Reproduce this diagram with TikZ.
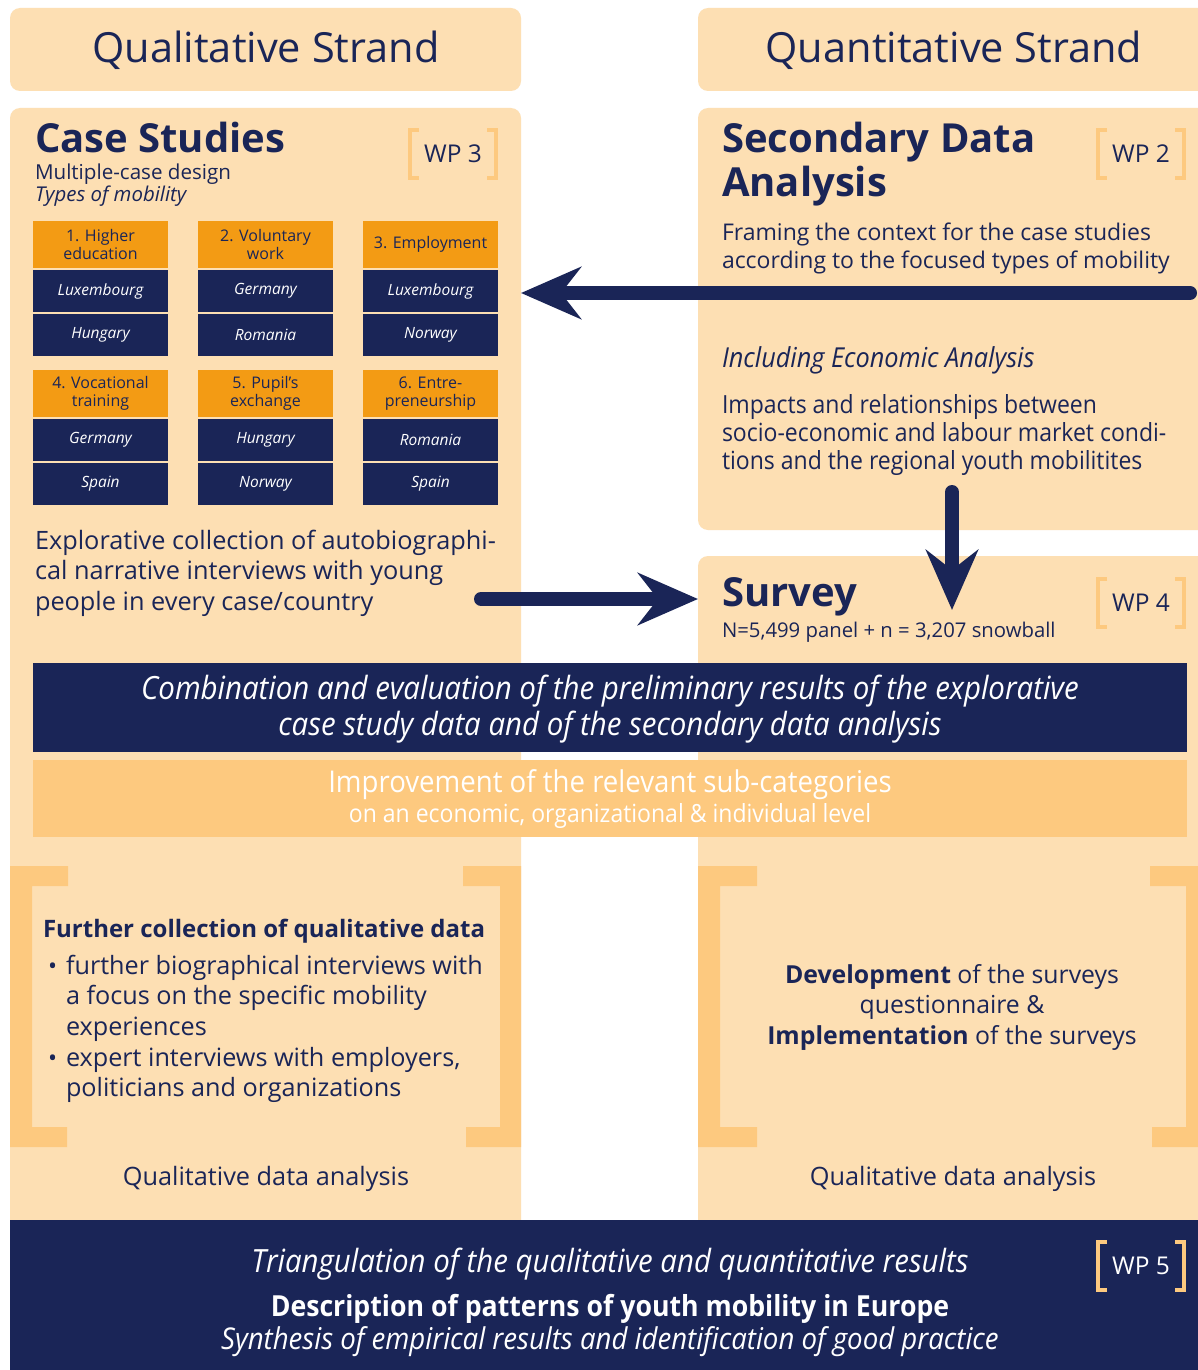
\documentclass[tikz,border=0pt]{standalone}
\usepackage{fontspec}
\setmainfont{Open Sans}
\newfontfamily\cond[FakeStretch=0.92]{Open Sans}
\usetikzlibrary{arrows.meta,calc}
\definecolor{peach}{RGB}{253,223,179}
\definecolor{navy}{RGB}{26,37,87}
\definecolor{orng}{RGB}{243,155,20}
\definecolor{bandc}{RGB}{253,201,127}
\newcommand\fs[2]{\fontsize{#1}{#2}\selectfont}
\newcommand\wpbr[1]{%
  \draw[brk] ($(#1)+(-34,-24)$) -- ($(#1)+(-43,-24)$) -- ($(#1)+(-43,24)$) -- ($(#1)+(-34,24)$);
  \draw[brk] ($(#1)+(34,-24)$) -- ($(#1)+(43,-24)$) -- ($(#1)+(43,24)$) -- ($(#1)+(34,24)$);}
\begin{document}
\begin{tikzpicture}[x=1pt,y=-1pt,
  every node/.style={inner sep=0pt, outer sep=0pt, text=navy},
  panel/.style={fill=peach, rounded corners=10pt, anchor=north west},
  hcell/.style={fill=orng, minimum width=135pt, minimum height=47pt, align=center, font=\fs{16}{18}},
  ccell/.style={fill=navy, text=white, minimum width=135pt, minimum height=42pt, font=\fs{15.5}{18}\itshape},
  wptxt/.style={font=\fs{24.5}{26}},
  brk/.style={draw=bandc, line width=4pt},
  bigarrow/.style={draw=navy, line width=14pt, line cap=round, -{Stealth[length=60pt,width=52pt,inset=20pt]}},
  para/.style={anchor=north west, align=left},
  brkfill/.style={fill=bandc}]
\useasboundingbox (0,0) rectangle (1198,1370);
\fill[white] (0,0) rectangle (1198,1370);
% panels
\node[panel, minimum width=511pt, minimum height=83pt] (qlhead) at (10,8) {};
\node[panel, minimum width=520pt, minimum height=83pt] (qnhead) at (698,8) {};
\node[panel, minimum width=511pt, minimum height=1140pt] (lcol) at (10,108) {};
\node[panel, minimum width=520pt, minimum height=422pt] (sda) at (698,108) {};
\node[panel, minimum width=520pt, minimum height=690pt] (svy) at (698,556) {};
% headers
\node[font=\fs{41.5}{48}, anchor=base] (qltitle) at (266,63) {Qualitative Strand};
\node[font=\fs{41.5}{48}, anchor=base] (qntitle) at (954,63) {Quantitative Strand};
% case studies
\node[anchor=base west, font=\bfseries\fs{40}{44}] (cst) at (35,152) {Case Studies};
\node[anchor=base west, font=\fs{20.6}{22}] (mcd) at (35,179) {Multiple-case design};
\node[anchor=base west, font=\fs{20.4}{22}\itshape] (tom) at (35,201) {Types of mobility};
\node[wptxt] (wp3) at (453,154) {WP 3};
\wpbr{wp3}
% table
\node[hcell] (h1) at (100.5,244.5) {1. Higher\\education};
\node[hcell] (h2) at (265.5,244.5) {2. Voluntary\\work};
\node[hcell] (h3) at (430.5,244.5) {3. Employment};
\node[ccell] (c1a) at (100.5,291) {Luxembourg};
\node[ccell] (c2a) at (265.5,291) {Germany};
\node[ccell] (c3a) at (430.5,291) {Luxembourg};
\node[ccell] (c1b) at (100.5,335) {Hungary};
\node[ccell] (c2b) at (265.5,335) {Romania};
\node[ccell] (c3b) at (430.5,335) {Norway};
\node[hcell] (h4) at (100.5,393.5) {4. Vocational\\training};
\node[hcell] (h5) at (265.5,393.5) {5. Pupil’s\\exchange};
\node[hcell] (h6) at (430.5,393.5) {6. Entre-\\preneurship};
\node[ccell] (c4a) at (100.5,440) {Germany};
\node[ccell] (c5a) at (265.5,440) {Hungary};
\node[ccell] (c6a) at (430.5,440) {Romania};
\node[ccell] (c4b) at (100.5,484) {Spain};
\node[ccell] (c5b) at (265.5,484) {Norway};
\node[ccell] (c6b) at (430.5,484) {Spain};
\node[para, font=\fs{25.3}{30.5}] (expl) at (35,530) {Explorative collection of autobiographi-\\cal narrative interviews with young\\people in every case/country};
% secondary data analysis
\node[anchor=base west, font=\bfseries\fs{40}{44}] (sdt1) at (722,152) {Secondary Data};
\node[anchor=base west, font=\bfseries\fs{40}{44}] (sdt2) at (722,196) {Analysis};
\node[wptxt] (wp2) at (1141,154) {WP 2};
\wpbr{wp2}
\node[para, font=\fs{23}{28}] (fram) at (722,223) {Framing the context for the case studies\\according to the focused types of mobility};
\node[anchor=base west, font=\cond\fs{27.5}{30}\itshape] (inc) at (722,367) {Including Economic Analysis};
\node[para, font=\cond\fs{25}{28}] (impc) at (722,395) {Impacts and relationships between\\socio-economic and labour market condi-\\tions and the regional youth mobilitites};
% survey
\node[anchor=base west, font=\bfseries\fs{40}{44}] (svt) at (722,606) {Survey};
\node[anchor=base west, font=\fs{20.3}{22}] (svn) at (722,637) {N=5,499 panel + n = 3,207 snowball};
\node[wptxt] (wp4) at (1141,603) {WP 4};
\wpbr{wp4}
% bands
\node[fill=navy, minimum width=1154pt, minimum height=89pt, anchor=north west] (comb) at (33,663) {};
\node[text=white, align=center, font=\cond\fs{32}{35.5}\itshape] (combt) at (610,709) {Combination and evaluation of the preliminary results of the explorative\\case study data and of the secondary data analysis};
\node[fill=bandc, minimum width=1154pt, minimum height=77pt, anchor=north west] (impr) at (33,760) {};
\node[text=white, font=\cond\fs{30}{32}, anchor=base] (imp1) at (610,792) {Improvement of the relevant sub-categories};
\node[text=white, font=\cond\fs{25}{26}, anchor=base] (imp2) at (610,822) {on an economic, organizational \& individual level};
% bottom brackets
\fill[brkfill] (10,866) -- (68,866) -- (68,886) -- (32,886) -- (32,1127) -- (67,1127) -- (67,1147) -- (10,1147) -- cycle;
\fill[brkfill] (521,866) -- (463,866) -- (463,886) -- (500,886) -- (500,1127) -- (466,1127) -- (466,1147) -- (521,1147) -- cycle;
\fill[brkfill] (698,866) -- (757,866) -- (757,886) -- (720,886) -- (720,1127) -- (757,1127) -- (757,1147) -- (698,1147) -- cycle;
\fill[brkfill] (1198,866) -- (1150,866) -- (1150,886) -- (1186,886) -- (1186,1127) -- (1152,1127) -- (1152,1147) -- (1198,1147) -- cycle;
\node[anchor=base west, font=\bfseries\fs{24}{26}] (fct) at (43,937) {Further collection of qualitative data};
\node[anchor=base west, font=\fs{24}{30}] (d1) at (48,974) {\textbullet};
\node[para, font=\fs{25.2}{30.5}] (b1) at (66,955) {further biographical interviews with\\a focus on the specific mobility\\experiences};
\node[anchor=base west, font=\fs{24}{30}] (d2) at (48,1066) {\textbullet};
\node[para, font=\fs{25.2}{30.5}] (b2) at (66,1047) {expert interviews with employers,\\politicians and organizations};
\node[align=center, font=\fs{24.8}{30.5}] (dev) at (952,1007) {\textbf{Development} of the surveys\\questionnaire \&\\\textbf{Implementation} of the surveys};
\node[anchor=base, font=\fs{25.3}{30}] (qda1) at (266,1185) {Qualitative data analysis};
\node[anchor=base, font=\fs{25.3}{30}] (qda2) at (953,1185) {Qualitative data analysis};
% bottom band
\node[fill=navy, minimum width=1200pt, minimum height=160pt, anchor=north west] (tri) at (10,1220) {};
\node[anchor=base, text=white, font=\cond\fs{32}{34}\itshape] (tr1) at (610,1272) {Triangulation of the qualitative and quantitative results};
\node[anchor=base, text=white, font=\cond\bfseries\fs{29}{30}] (tr2) at (610,1316) {Description of patterns of youth mobility in Europe};
\node[anchor=base, text=white, font=\cond\fs{30}{30}\itshape] (tr3) at (610,1349) {Synthesis of empirical results and identification of good practice};
\node[wptxt, text=white] (wp5) at (1141,1266) {WP 5};
\wpbr{wp5}
% arrows
\coordinate (a1s) at (1190,293);
\draw[bigarrow] (a1s) -- (a1s -| lcol.east);
\coordinate (a2s) at (952,492);
\coordinate (a2e) at (952,610);
\draw[bigarrow] (a2s) -- (a2e);
\coordinate (a3s) at (481,599);
\draw[bigarrow] (a3s) -- (a3s -| svy.west);
\end{tikzpicture}
\end{document}
